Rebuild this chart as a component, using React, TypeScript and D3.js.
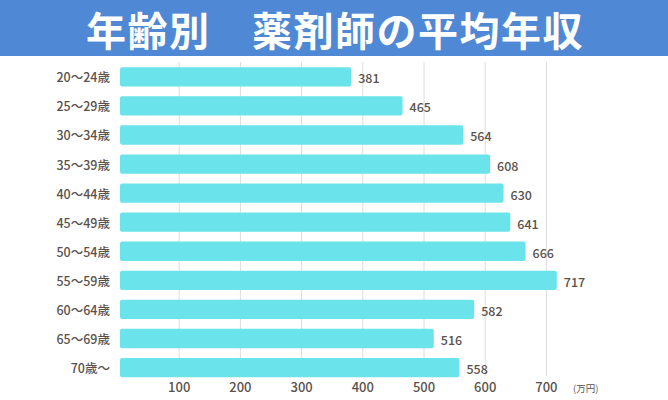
import React from "react";
import * as d3 from "d3";

const title = "年齢別　薬剤師の平均年収";
const ageGroups = [
  "20～24歳",
  "25～29歳",
  "30～34歳",
  "35～39歳",
  "40～44歳",
  "45～49歳",
  "50～54歳",
  "55～59歳",
  "60～64歳",
  "65～69歳",
  "70歳～",
];
const salaries = [381, 465, 564, 608, 630, 641, 666, 717, 582, 516, 558];
const xTicks = [100, 200, 300, 400, 500, 600, 700];
const unitLabel = "(万円)";

const W = 668;
const H = 400;
const font = "'Noto Sans CJK JP', 'Noto Sans', sans-serif";
const textColor = "#5a514c";

const App = () => {
  const x = d3.scaleLinear().domain([0, 700]).range([118, 546.4]);
  const y = d3
    .scaleBand()
    .domain(ageGroups)
    .range([62.5, 381.9])
    .paddingInner(0.335)
    .paddingOuter(0.16);

  return (
    <svg
      width={W}
      height={H}
      style={{ position: "absolute", left: 0, top: 0, background: "#fff" }}
    >
      {/* title bar */}
      <rect x={0} y={0} width={W} height={56} fill="#4f88d4" />
      <text
        x={335}
        y={29}
        textAnchor="middle"
        dominantBaseline="central"
        fill="#fff"
        fontFamily={font}
        fontWeight={700}
        fontSize={40}
        letterSpacing={1.5}
      >
        {title}
      </text>

      {/* grid */}
      <g>
        {xTicks.map((t) => (
          <line
            key={t}
            x1={x(t)}
            x2={x(t)}
            y1={62}
            y2={376}
            stroke="#dcdcdc"
            strokeWidth={1}
          />
        ))}
      </g>

      {/* bars */}
      <g>
        {ageGroups.map((g, i) => (
          <rect
            key={g}
            x={120}
            y={y(g)}
            width={x(salaries[i]) - 120}
            height={y.bandwidth()}
            rx={2}
            fill="#6ae4ea"
          />
        ))}
      </g>

      {/* value labels */}
      <g fontFamily={font} fontWeight={500} fontSize={12.5} fill={textColor}>
        {ageGroups.map((g, i) => (
          <text
            key={g}
            x={x(salaries[i]) + 7}
            y={(y(g) as number) + y.bandwidth() / 2 + 1}
            dominantBaseline="central"
          >
            {salaries[i]}
          </text>
        ))}
      </g>

      {/* category labels */}
      <g fontFamily={font} fontWeight={500} fontSize={12.5} fill={textColor}>
        {ageGroups.map((g) => (
          <text
            key={g}
            x={110}
            y={(y(g) as number) + y.bandwidth() / 2}
            textAnchor="end"
            dominantBaseline="central"
          >
            {g}
          </text>
        ))}
      </g>

      {/* x tick labels */}
      <g fontFamily={font} fontWeight={500} fontSize={13} fill={textColor}>
        {xTicks.map((t) => (
          <text
            key={t}
            x={x(t)}
            y={386}
            textAnchor="middle"
            dominantBaseline="central"
          >
            {t}
          </text>
        ))}
        <text
          x={573}
          y={388}
          fontSize={9.5}
          fontWeight={400}
          dominantBaseline="central"
        >
          {unitLabel}
        </text>
      </g>
    </svg>
  );
};

export default App;
